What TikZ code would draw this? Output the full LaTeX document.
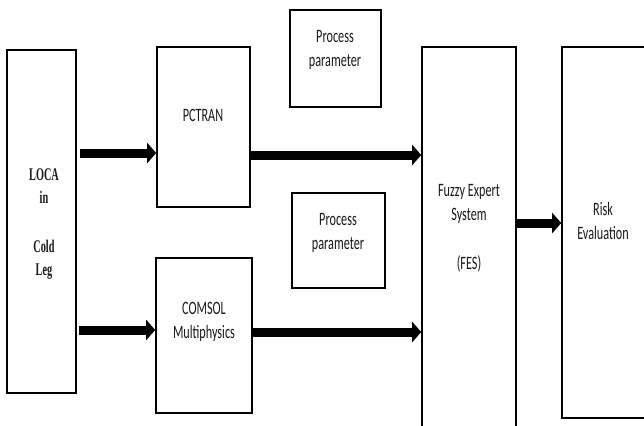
\documentclass[tikz,border=0pt]{standalone}
\usepackage{fontspec}
\setmainfont{Carlito}
\newfontfamily\serfont{Liberation Serif}
\usepackage{graphicx}
\usetikzlibrary{arrows.meta}
\newcommand{\sx}[1]{\scalebox{1}[1.55]{#1}}
\newcommand{\sy}[1]{\scalebox{0.95}[1.65]{#1}}
\tikzset{
  box/.style={draw=black, line width=1.6pt, inner sep=0pt, rectangle},
  lbl/.style={inner sep=0pt, align=center, text=black!90, font=\fontsize{12.2}{24}\selectfont},
  slbl/.style={inner sep=0pt, align=center, text=black!90, font=\serfont\bfseries\fontsize{10.8}{23}\selectfont},
  arr/.style={line width=9pt, -{Triangle[length=9pt,width=20pt]}}
}
\begin{document}
\begin{tikzpicture}[x=1pt,y=-1pt]
\useasboundingbox (0,0) rectangle (644,425);
\clip (0,0) rectangle (644,425);
% boxes
\node[box, minimum width=69, minimum height=343] (loca) at (41.5,221.5) {};
\node[box, minimum width=93, minimum height=160] (pctran) at (203.5,127) {};
\node[box, minimum width=91, minimum height=97] (pp1) at (335.5,58.5) {};
\node[box, minimum width=93, minimum height=95] (pp2) at (338.5,240.5) {};
\node[box, minimum width=96, minimum height=155] (comsol) at (204,335.5) {};
\node[box, minimum width=94, minimum height=393] (fes) at (469,243.5) {};
\node[box, minimum width=88, minimum height=371] (risk) at (606,232.5) {};
% texts
\node[slbl] (locat) at (44,224) {\sy{LOCA}\\ \sy{in}\\[26pt] \sy{Cold}\\ \sy{Leg}};
\node[lbl] (pctrant) at (203,115) {\sx{PCTRAN}};
\node[lbl] (pp1t) at (335,50) {\sx{Process}\\ \sx{parameter}};
\node[lbl] (pp2t) at (338,233) {\sx{Process}\\ \sx{parameter}};
\node[lbl] (comsolt) at (204,322) {\sx{COMSOL}\\ \sx{Multiphysics}};
\node[lbl] (fest) at (469,228) {\sx{Fuzzy Expert}\\ \sx{System}\\[25pt] \sx{(FES)}};
\node[lbl] (riskt) at (603,221) {\sx{Risk}\\ \sx{Evaluation}};
% arrows
\draw[arr, shorten <=3pt] (loca.east |- 0,153) -- (pctran.west |- 0,153);
\draw[arr, shorten <=2pt] (loca.east |- 0,330) -- (comsol.west |- 0,330);
\draw[arr] (pctran.east |- 0,155) -- (fes.west |- 0,155);
\draw[arr] (comsol.east |- 0,332) -- (fes.west |- 0,332);
\draw[arr] (fes.east |- 0,223) -- (risk.west |- 0,223);
\end{tikzpicture}
\end{document}
